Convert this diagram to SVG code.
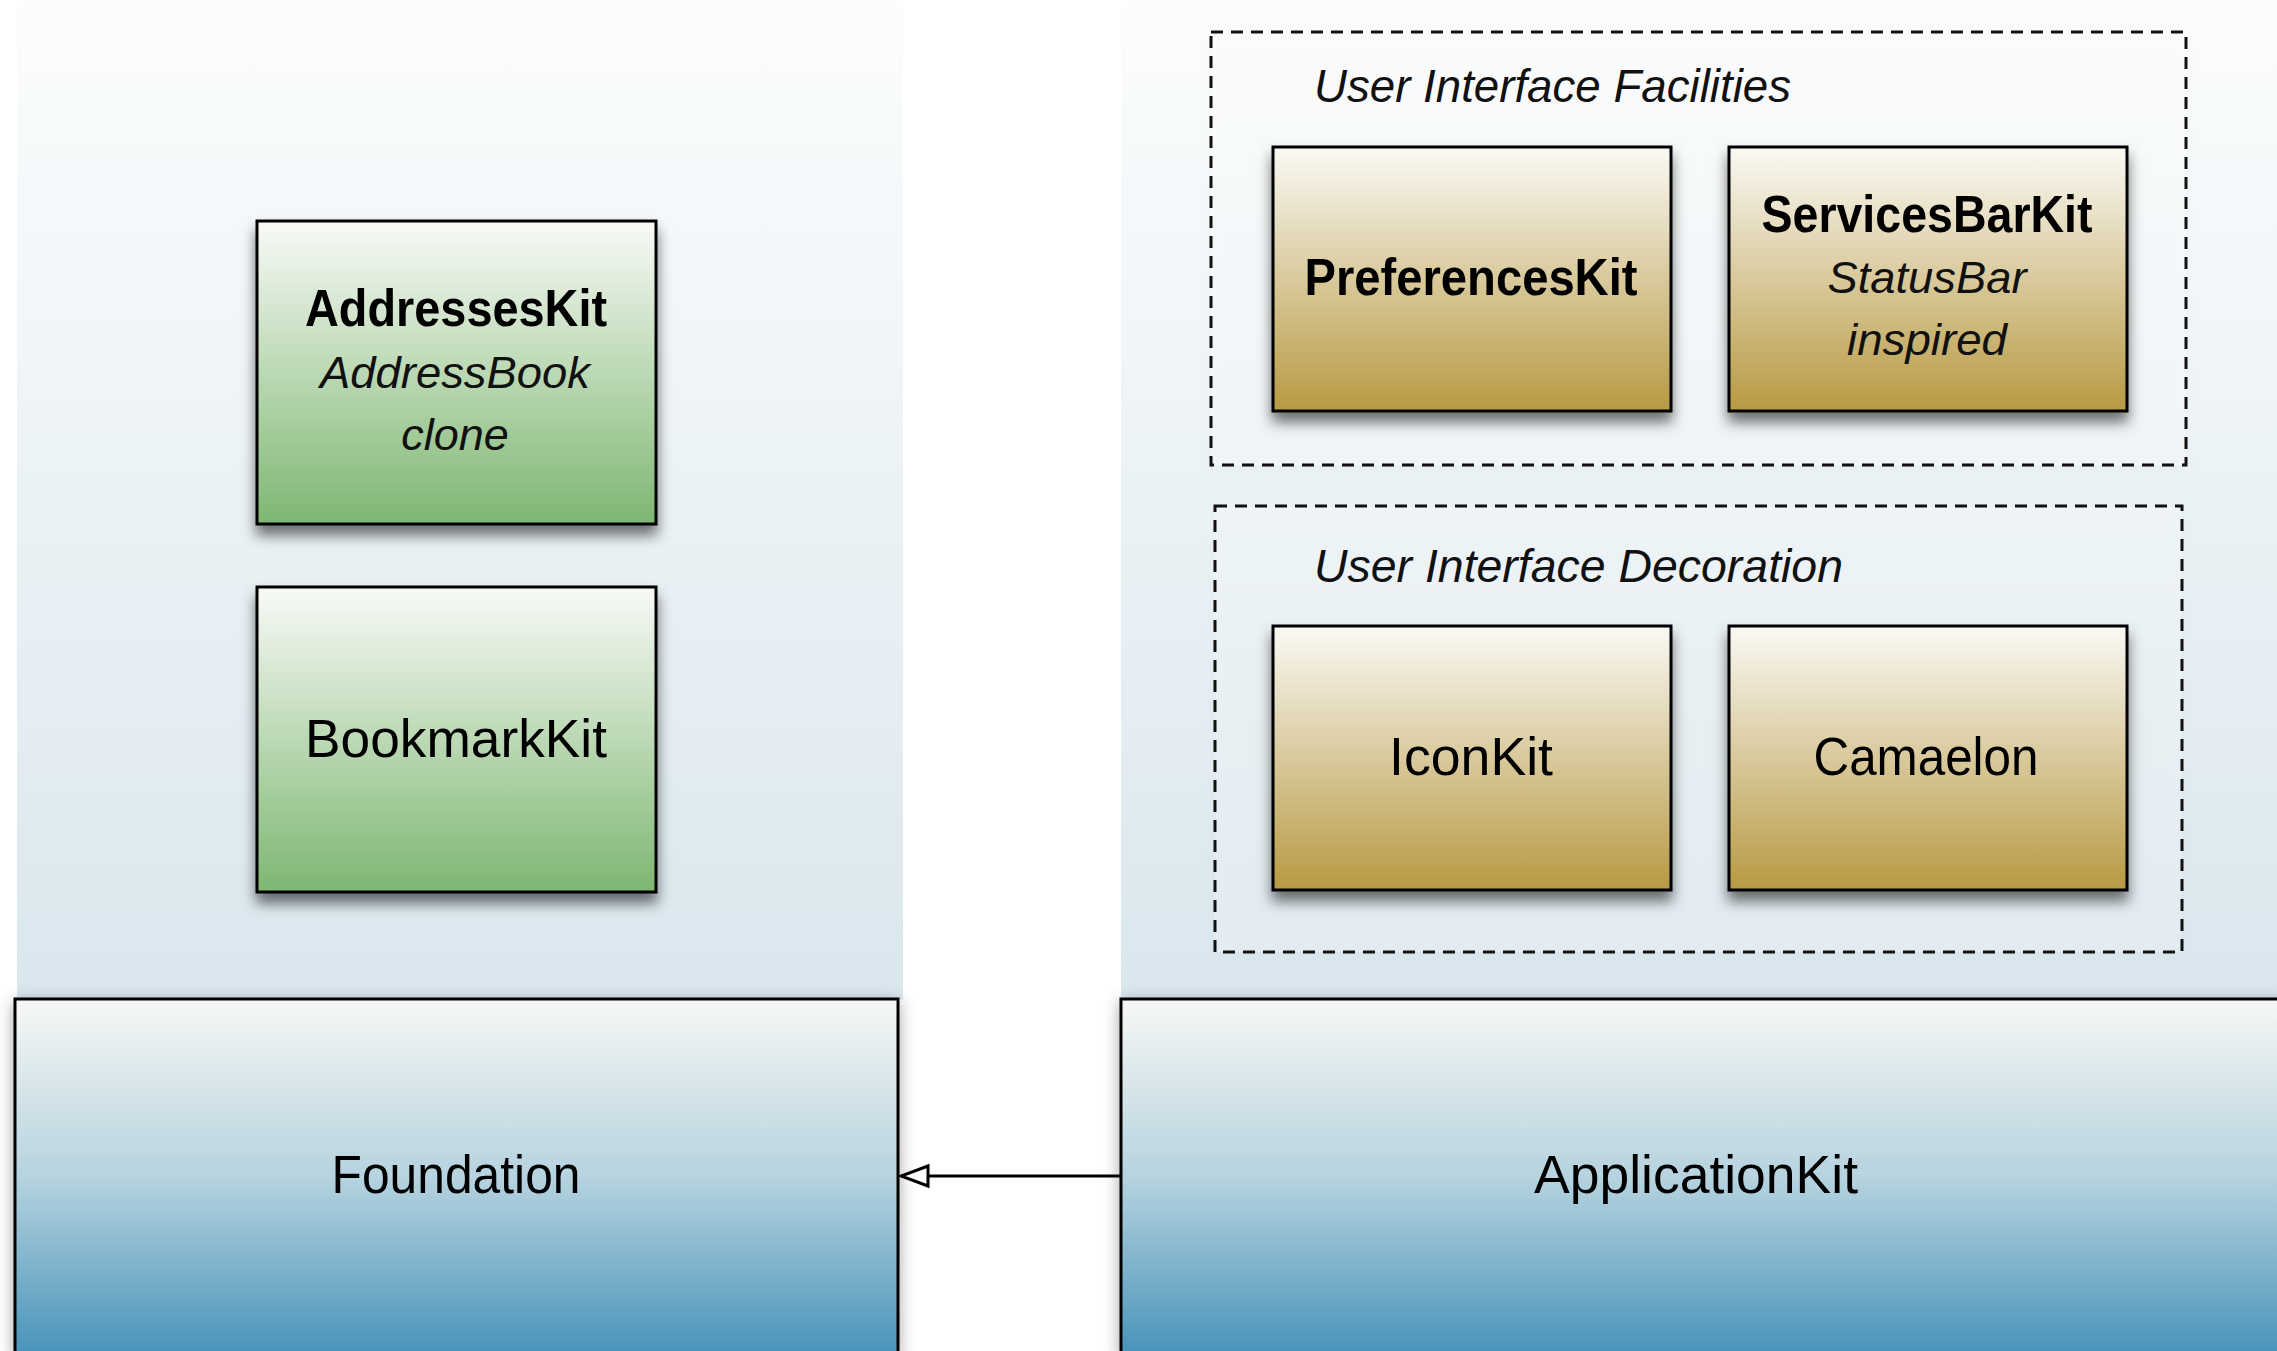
<svg xmlns="http://www.w3.org/2000/svg" width="2277" height="1351" viewBox="0 0 2277 1351">
<style>
.t{font-family:"Liberation Sans",Arial,sans-serif;fill:#000;text-anchor:middle}
.b{font-weight:bold;font-size:52px}
.r{font-size:53px}
.i{font-style:italic;font-size:45px;fill:#111}
.lbl{font-family:"Liberation Sans",Arial,sans-serif;font-style:italic;font-size:46px;fill:#111}
.box{stroke:#000;stroke-width:3}
.grp{fill:none;stroke:#111;stroke-width:3;stroke-dasharray:12 8}
</style>
<defs>
<linearGradient id="bg" x1="0" y1="0" x2="0" y2="1"><stop offset="0" stop-color="#fcfdfd"/><stop offset="1" stop-color="#dae7ee"/></linearGradient>
<linearGradient id="green" x1="0" y1="0" x2="0" y2="1"><stop offset="0" stop-color="#f9faf7"/><stop offset="1" stop-color="#7eb772"/></linearGradient>
<linearGradient id="gold" x1="0" y1="0" x2="0" y2="1"><stop offset="0" stop-color="#faf9f5"/><stop offset="1" stop-color="#b89a43"/></linearGradient>
<linearGradient id="blue" x1="0" y1="0" x2="0" y2="1"><stop offset="0" stop-color="#f7f8f5"/><stop offset="0.5" stop-color="#b6d3df"/><stop offset="1" stop-color="#4893b9"/></linearGradient>
<filter id="sh" x="-20%" y="-20%" width="140%" height="150%"><feDropShadow dx="0" dy="10" stdDeviation="7" flood-color="#000" flood-opacity="0.55"/></filter>
<filter id="shs" x="-10%" y="-10%" width="120%" height="130%"><feDropShadow dx="0" dy="4" stdDeviation="8" flood-color="#000" flood-opacity="0.35"/></filter>
<filter id="shg" x="-10%" y="-10%" width="120%" height="120%"><feDropShadow dx="0" dy="6" stdDeviation="8" flood-color="#000" flood-opacity="0.08"/></filter>
<marker id="open" markerWidth="34" markerHeight="26" refX="30" refY="13" orient="auto" markerUnits="userSpaceOnUse"><path d="M3,3 L30,13 L3,23 Z" fill="#fff" stroke="#000" stroke-width="3"/></marker>
</defs>
<rect width="2277" height="1351" fill="#fff"/>
<g id="panels">
<rect x="17" y="0" width="886" height="1000" fill="url(#bg)"/>
<rect x="1121" y="0" width="1156" height="1000" fill="url(#bg)"/>
</g>
<g id="group-facilities">
<rect x="1211" y="32" width="975" height="433" fill="#fff" fill-opacity="0.25" filter="url(#shg)"/>
<rect class="grp" x="1211" y="32" width="975" height="433"/>
<text class="lbl" x="1314" y="102" textLength="477" lengthAdjust="spacingAndGlyphs">User Interface Facilities</text>
</g>
<g id="group-decoration">
<rect x="1215" y="506" width="967" height="446" fill="#fff" fill-opacity="0.2" filter="url(#shg)"/>
<rect class="grp" x="1215" y="506" width="967" height="446"/>
<text class="lbl" x="1314" y="582" textLength="529" lengthAdjust="spacingAndGlyphs">User Interface Decoration</text>
</g>
<g id="addresseskit">
<rect class="box" x="257" y="221" width="399" height="303" fill="url(#green)" filter="url(#sh)"/>
<text class="t b" x="456" y="326" textLength="302" lengthAdjust="spacingAndGlyphs">AddressesKit</text>
<text class="t i" x="455" y="388" textLength="270" lengthAdjust="spacingAndGlyphs">AddressBook</text>
<text class="t i" x="455" y="450">clone</text>
</g>
<g id="bookmarkkit">
<rect class="box" x="257" y="587" width="399" height="305" fill="url(#green)" filter="url(#sh)"/>
<text class="t r" x="456" y="757" textLength="302" lengthAdjust="spacingAndGlyphs">BookmarkKit</text>
</g>
<g id="preferenceskit">
<rect class="box" x="1273" y="147" width="398" height="264" fill="url(#gold)" filter="url(#sh)"/>
<text class="t b" x="1471" y="295" textLength="333" lengthAdjust="spacingAndGlyphs">PreferencesKit</text>
</g>
<g id="servicesbarkit">
<rect class="box" x="1729" y="147" width="398" height="264" fill="url(#gold)" filter="url(#sh)"/>
<text class="t b" x="1927" y="232" textLength="331" lengthAdjust="spacingAndGlyphs">ServicesBarKit</text>
<text class="t i" x="1927" y="293" textLength="199" lengthAdjust="spacingAndGlyphs">StatusBar</text>
<text class="t i" x="1927" y="355" textLength="160" lengthAdjust="spacingAndGlyphs">inspired</text>
</g>
<g id="iconkit">
<rect class="box" x="1273" y="626" width="398" height="264" fill="url(#gold)" filter="url(#sh)"/>
<text class="t r" x="1471" y="775" textLength="164" lengthAdjust="spacingAndGlyphs">IconKit</text>
</g>
<g id="camaelon">
<rect class="box" x="1729" y="626" width="398" height="264" fill="url(#gold)" filter="url(#sh)"/>
<text class="t r" x="1926" y="775" textLength="225" lengthAdjust="spacingAndGlyphs">Camaelon</text>
</g>
<g id="foundation">
<rect class="box" x="15" y="999" width="883" height="356" fill="url(#blue)" filter="url(#shs)"/>
<text class="t r" x="456" y="1193" textLength="249" lengthAdjust="spacingAndGlyphs">Foundation</text>
</g>
<g id="applicationkit">
<rect class="box" x="1121" y="999" width="1170" height="356" fill="url(#blue)" filter="url(#shs)"/>
<text class="t r" x="1696" y="1193" textLength="324" lengthAdjust="spacingAndGlyphs">ApplicationKit</text>
</g>
<g id="connectors">
<line x1="1121" y1="1176" x2="901" y2="1176" stroke="#000" stroke-width="3" marker-end="url(#open)"/>
</g>
</svg>
